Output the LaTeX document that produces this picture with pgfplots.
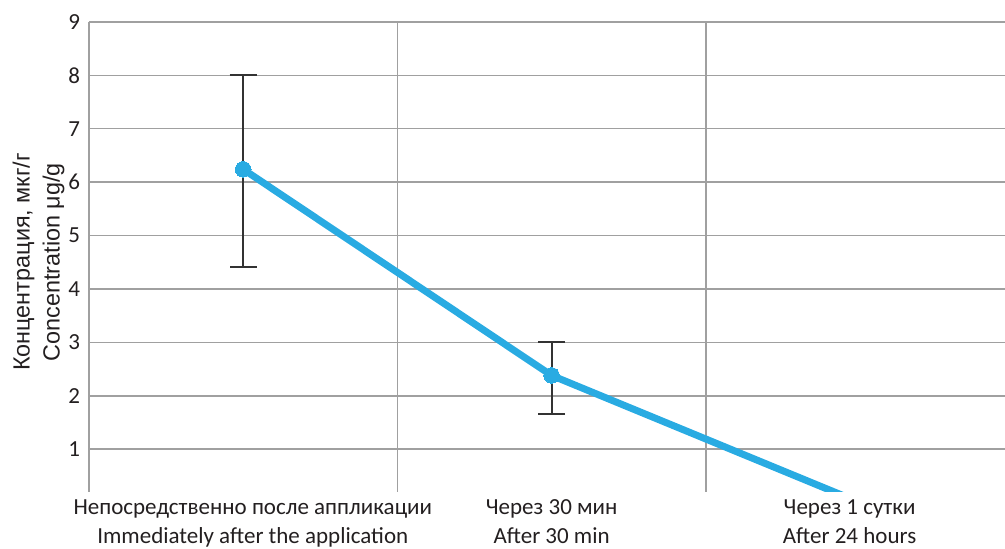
\documentclass[border=0pt]{standalone}
\usepackage{fontspec}
\setmainfont{Carlito}
\newfontfamily\arialf{Liberation Sans}
\usepackage{pgfplots}
\pgfplotsset{compat=1.18}
\usepackage{pgfplotstable}
\definecolor{lineblue}{RGB}{41,171,226}
\definecolor{gridgray}{RGB}{160,160,160}
\definecolor{errgray}{RGB}{51,51,51}
\definecolor{txt}{RGB}{35,31,32}
\pgfplotstableread{
x y ep em
0 6.24 1.76 1.82
1 2.38 0.63 0.73
2 0.00 0 0
}\datatab
\begin{document}
\begin{tikzpicture}
\begin{axis}[
  scale only axis,
  width=458pt, height=235pt,
  xmin=-0.5, xmax=2.47,
  ymin=0.2, ymax=9,
  axis y line*=left,
  axis x line*=bottom,
  x axis line style={draw=none},
  y axis line style={draw=gridgray, line width=0.75pt},
  xtick={0.031,1,1.966},
  minor xtick={0.5,1.5},
  xminorgrids=true,
  ytick={0,1,...,9},
  ymajorgrids=true,
  major tick length=0pt, minor tick length=0pt,
  grid style={draw=gridgray, line width=0.75pt},
  minor grid style={draw=gridgray, line width=0.75pt},
  xticklabels={{Непосредственно после аппликации\\Immediately after the application},{Через 30 мин\\After 30 min},{Через 1 сутки\\After 24 hours}},
  xticklabel style={align=center, font=\fontsize{11.5}{14.5}\selectfont, text=txt, yshift=-0.5pt},
  yticklabel style={font=\fontsize{11.5}{14}\selectfont, text=txt, xshift=-1pt},
  /pgf/number format/assume math mode=true,
  ylabel={Концентрация, мкг/г\\Concentration μg/g},
  ylabel style={align=center, font=\arialf\fontsize{11.7}{15}\selectfont, text=txt, at={(axis description cs:-0.055,0.489)}, anchor=center},
]
\addplot[forget plot, only marks, mark=none, color=errgray,
  error bars/.cd, y dir=both, y explicit,
  error bar style={line width=1pt, color=errgray},
  error mark options={rotate=90, mark size=6.75pt, line width=1pt, color=errgray}]
  table[x=x, y=y, y error plus=ep, y error minus=em] {\datatab};
\addplot[color=lineblue, line width=3.5pt, mark=*, mark size=3.9pt, mark options={fill=lineblue, draw=lineblue, line width=0pt}]
  table[x=x, y=y] {\datatab};
\end{axis}
\pgfresetboundingbox
\path[use as bounding box] ([shift={(-44.5pt,-28.5pt)}]current axis.south west) rectangle ([shift={(0pt,10.95pt)}]current axis.north east);
\end{tikzpicture}
\end{document}
